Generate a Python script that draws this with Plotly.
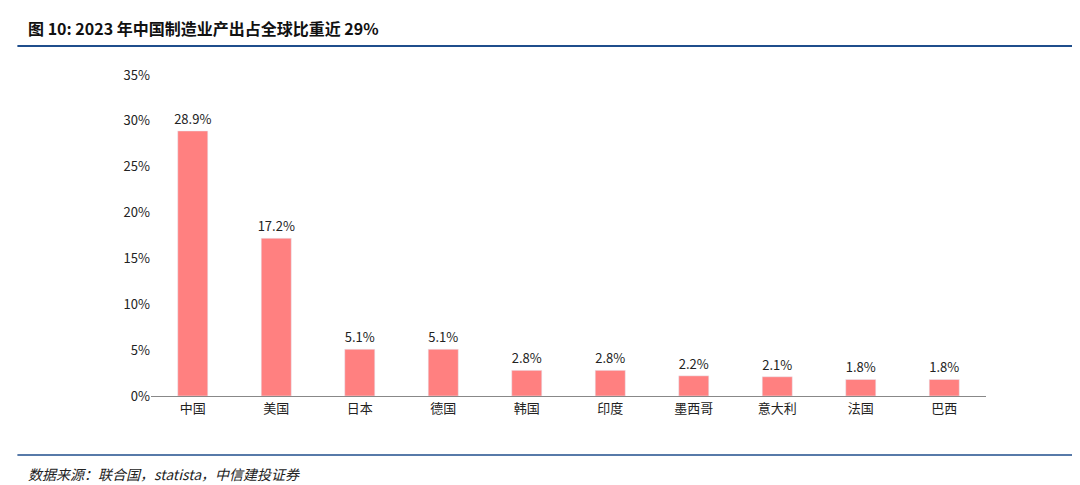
import plotly.graph_objects as go

countries = ["中国", "美国", "日本", "德国", "韩国", "印度", "墨西哥", "意大利", "法国", "巴西"]
shares = [28.9, 17.2, 5.1, 5.1, 2.8, 2.8, 2.2, 2.1, 1.8, 1.8]
labels = [f"{v:.1f}%" for v in shares]
yticks = [0, 5, 10, 15, 20, 25, 30, 35]

fig = go.Figure(go.Bar(
    x=countries, y=shares, text=labels, textposition="outside",
    marker_color="#FF8080", width=0.36, constraintext="none",
    textfont=dict(family="Noto Sans CJK SC", size=13, color="#222"),
    cliponaxis=False,
))
fig.update_layout(
    width=1080, height=485, plot_bgcolor="white", paper_bgcolor="white",
    margin=dict(l=143, r=102, t=67, b=97, autoexpand=False), showlegend=False,
    font=dict(family="Noto Sans CJK SC", size=13, color="#222"),
    xaxis=dict(showline=True, linecolor="#888", ticks="", tickfont=dict(size=13)),
    yaxis=dict(range=[0, 35], tickvals=yticks, ticktext=[f"{v}%" for v in yticks],
               showgrid=False, showline=False, zeroline=False, ticks="",
               tickfont=dict(size=13)),
    shapes=[
        dict(type="line", xref="paper", yref="paper", x0=-0.16, x1=1.116, y0=1.09, y1=1.09,
             line=dict(color="#1F4E8C", width=2)),
        dict(type="line", xref="paper", yref="paper", x0=-0.16, x1=1.116, y0=-0.184, y1=-0.184,
             line=dict(color="#1F4E8C", width=1.5)),
    ],
    annotations=[
        dict(text="<b>图 10: 2023 年中国制造业产出占全球比重近 29%</b>", xref="paper", yref="paper",
             x=-0.15, y=1.146, xanchor="left", yanchor="middle", showarrow=False,
             font=dict(size=16, color="#111", family="Noto Sans CJK SC")),
        dict(text="<i>数据来源：联合国，statista，中信建投证券</i>", xref="paper", yref="paper",
             x=-0.15, y=-0.243, xanchor="left", yanchor="middle", showarrow=False,
             font=dict(size=14, color="#222", family="Noto Sans CJK SC")),
    ],
)
fig.write_html("out.html")
